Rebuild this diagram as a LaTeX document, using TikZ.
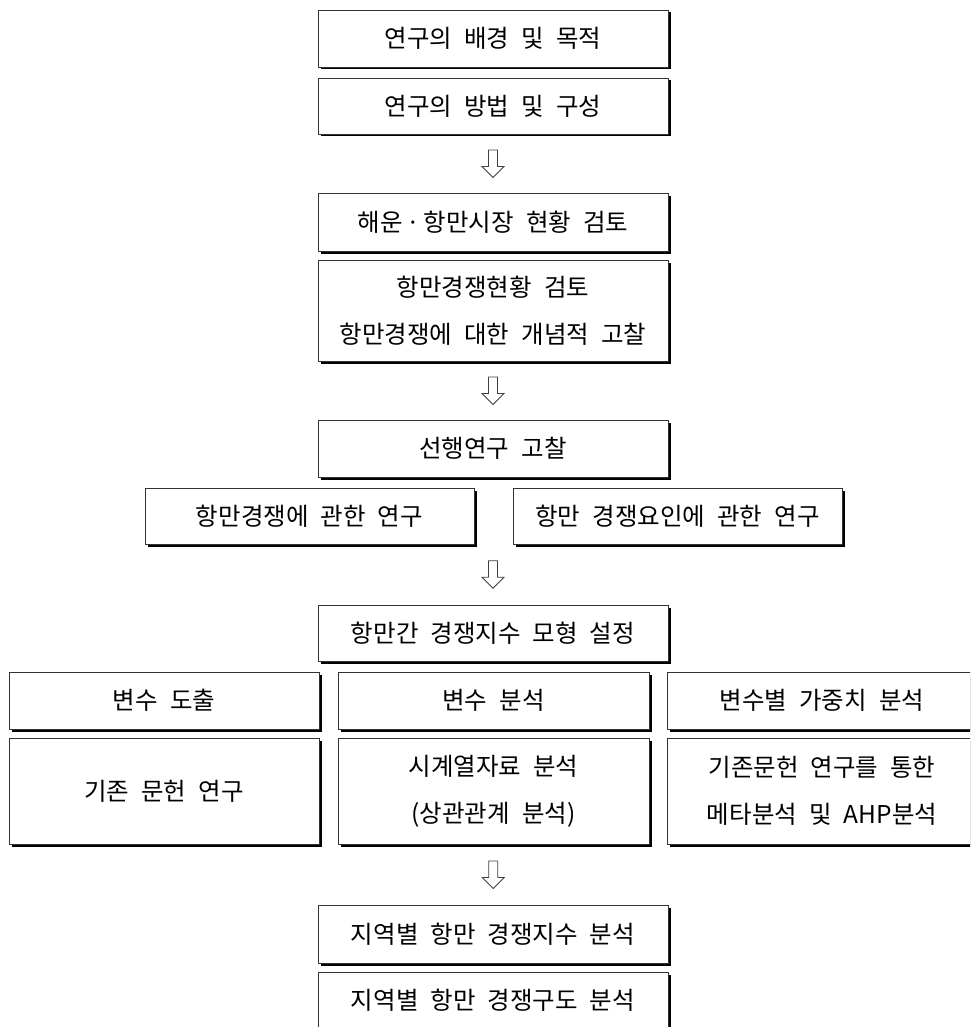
\documentclass[tikz,border=0pt]{standalone}
\usepackage{fontspec}
\setmainfont{Noto Sans CJK KR}[WordSpace=2.2]
\usetikzlibrary{shadows,calc}
\tikzset{
  box/.style={draw=black!80, line width=0.8pt, fill=white, inner sep=0pt,
    align=center, font=\fontsize{24.5}{47}\selectfont,
    minimum width=350pt, minimum height=57pt,
    drop shadow={shadow xshift=2.5pt, shadow yshift=-2.5pt, fill=black, opacity=1}},
  blockarrow/.style={draw=black!75, line width=0.8pt, fill=white, line join=miter}
}
\newcommand{\blockarr}[2]{%
  \coordinate (m#1#2) at ($(#1.south)!0.5!(#2.north)$);
  \draw[blockarrow] (m#1#2) ++(-4.5,-13.5) -- ++(9,0) -- ++(0,16.5) -- ++(6.5,0)
     -- ++(-11,11) -- ++(-11,-11) -- ++(6.5,0) -- cycle;}
\begin{document}
\begin{tikzpicture}[x=1pt,y=-1pt]
\useasboundingbox (0,0) rectangle (970,1027);
\clip (0,0) rectangle (970,1027);
\node[box] (b1) at (493,38.5) {연구의 배경 및 목적};
\node[box, minimum height=56pt] (b2) at (493,106) {연구의 방법 및 구성};
\node[box, minimum height=58pt] (b3) at (493,222) {해운\hspace{0.15em}·\hspace{0.15em}항만시장 현황 검토};
\node[box, minimum height=101pt] (b4) at (493,310.5) {항만경쟁현황 검토\\항만경쟁에 대한 개념적 고찰};
\node[box] (b5) at (493,448.5) {선행연구 고찰};
\node[box, minimum width=329pt, minimum height=56pt] (b6) at (309.5,516) {항만경쟁에 관한 연구};
\node[box, minimum width=329pt, minimum height=56pt] (b7) at (677.5,516) {항만 경쟁요인에 관한 연구};
\node[box, minimum height=56pt] (b8) at (493,633) {항만간 경쟁지수 모형 설정};
\node[box, minimum width=310pt] (b9) at (164,700.5) {변수 도출};
\node[box, minimum width=311pt] (b10) at (493.5,700.5) {변수 분석};
\node[box, minimum width=310pt] (b11) at (822,700.5) {변수별 가중치 분석};
\node[box, minimum width=310pt, minimum height=106pt] (b12) at (164,791) {기존 문헌 연구};
\node[box, minimum width=311pt, minimum height=106pt] (b13) at (493.5,791) {시계열자료 분석\\(상관관계 분석)};
\node[box, minimum width=310pt, minimum height=106pt] (b14) at (822,791) {기존문헌 연구를 통한\\메타분석 및 AHP분석};
\node[box, minimum height=58pt] (b15) at (493,934) {지역별 항만 경쟁지수 분석};
\node[box] (b16) at (493,1000.5) {지역별 항만 경쟁구도 분석};
\blockarr{b2}{b3}
\blockarr{b4}{b5}
\coordinate (row6) at (493,544);
\coordinate (m6x) at ($(row6)!0.5!(b8.north)$);
\draw[blockarrow] (m6x) ++(-4.5,-13.5) -- ++(9,0) -- ++(0,16.5) -- ++(6.5,0)
     -- ++(-11,11) -- ++(-11,-11) -- ++(6.5,0) -- cycle;
\blockarr{b13}{b15}
\end{tikzpicture}
\end{document}
